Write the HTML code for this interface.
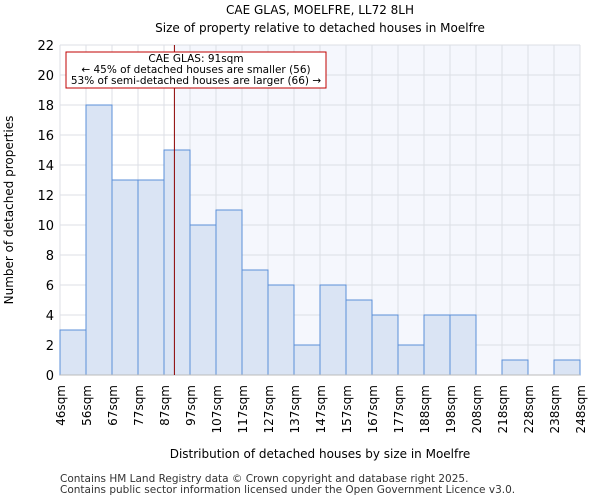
<!DOCTYPE html>
<html><head><meta charset="utf-8"><style>
body{margin:0;background:#fff;font-family:"DejaVu Sans","Liberation Sans",sans-serif}
</style></head><body>
<svg width="600" height="500" xmlns="http://www.w3.org/2000/svg" font-family="DejaVu Sans, Liberation Sans, sans-serif">
<text x="320" y="14" font-size="12" text-anchor="middle">CAE GLAS, MOELFRE, LL72 8LH</text>
<text x="320" y="32" font-size="12" text-anchor="middle">Size of property relative to detached houses in Moelfre</text>
<g id="plot"></g>
<text x="320" y="458" font-size="12" text-anchor="middle">Distribution of detached houses by size in Moelfre</text>
<text transform="translate(13,210) rotate(-90)" font-size="12" text-anchor="middle">Number of detached properties</text>
<text x="60" y="482" font-size="10.5" fill="#333">Contains HM Land Registry data © Crown copyright and database right 2025.</text>
<text x="60" y="493" font-size="10.5" fill="#333">Contains public sector information licensed under the Open Government Licence v3.0.</text>
</svg>
<script>
const binLabels=["46sqm","56sqm","67sqm","77sqm","87sqm","97sqm","107sqm","117sqm","127sqm","137sqm","147sqm","157sqm","167sqm","177sqm","188sqm","198sqm","208sqm","218sqm","228sqm","238sqm","248sqm"];
const counts=[3,18,13,13,15,10,11,7,6,2,6,5,4,2,4,4,0,1,0,1];
const yTicks=[0,2,4,6,8,10,12,14,16,18,20,22];
const propertyBin=4.4;
const NS="http://www.w3.org/2000/svg";
const g=document.getElementById('plot');
const X0=60,X1=580,Y0=375,Y1=45,YMAX=22;
const bw=(X1-X0)/counts.length;
const xs=i=>X0+i*bw;
const ys=v=>Y0-(v/YMAX)*(Y0-Y1);
function mk(t,a){const e=document.createElementNS(NS,t);for(const k in a)e.setAttribute(k,a[k]);g.appendChild(e);return e;}
const px=xs(propertyBin);
let r=mk('rect',{x:px,y:Y1,width:X1-px,height:Y0-Y1,fill:'#f5f7fd'});


for(let i=0;i<=counts.length;i++){let l=mk('line',{x1:xs(i),x2:xs(i),y1:Y1,y2:Y0,stroke:'#dcdfe5','stroke-width':1});

}
yTicks.forEach(t=>{let l=mk('line',{x1:X0,x2:X1,y1:ys(t),y2:ys(t),stroke:'#dcdfe5','stroke-width':1});


let tx=mk('text',{x:X0-6,y:ys(t)+5,'font-size':13,'text-anchor':'end'});tx.textContent=t;

});
counts.forEach((c,i)=>{if(c<=0)return;let b=mk('rect',{x:xs(i),y:ys(c),width:bw,height:Y0-ys(c),fill:'#dae4f4',stroke:'#5b8fd8','stroke-width':1});

});
binLabels.forEach((lab,i)=>{let tx=mk('text',{transform:`translate(${xs(i)+5},385) rotate(-90)`,'font-size':12,'text-anchor':'end'});tx.textContent=lab;

});
let ax=mk('line',{x1:X0,x2:X1,y1:Y0,y2:Y0,stroke:'#bbb'});


let pl=mk('line',{x1:px,x2:px,y1:Y1,y2:Y0,stroke:'#8b0000','stroke-width':1});


let box=mk('rect',{x:66,y:52,width:260,height:36,fill:'#fff',stroke:'#c00000','stroke-width':1});


["CAE GLAS: 91sqm","← 45% of detached houses are smaller (56)","53% of semi-detached houses are larger (66) →"].forEach((s,i)=>{let t=mk('text',{x:196,y:62+i*11,'font-size':10.5,'text-anchor':'middle'});t.textContent=s;

});
</script>
</body></html>
